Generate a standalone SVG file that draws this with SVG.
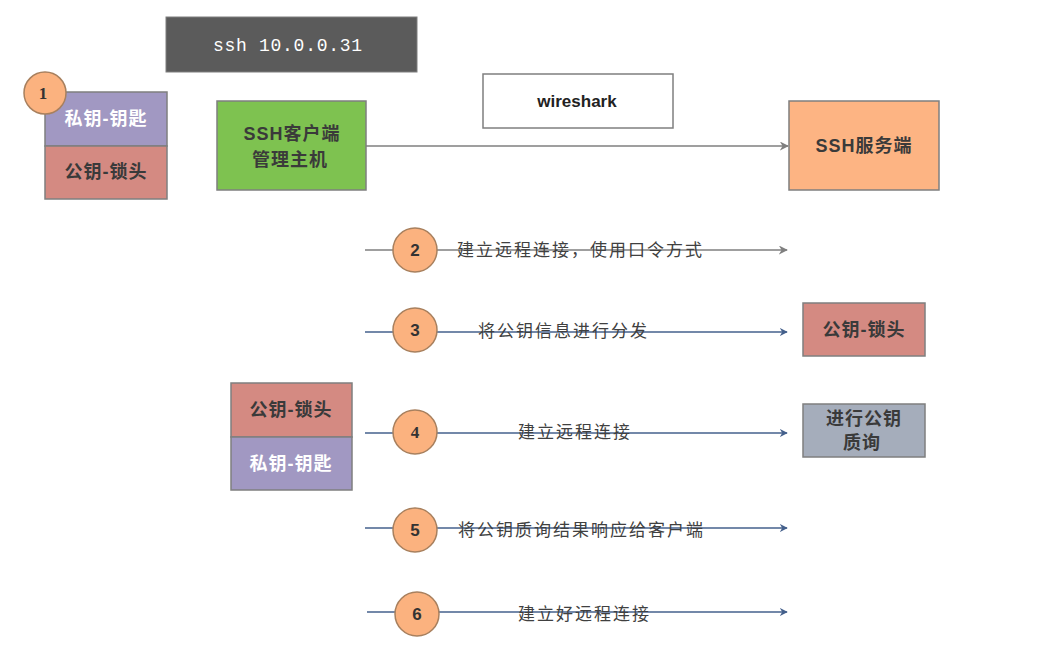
<svg xmlns="http://www.w3.org/2000/svg" width="1064" height="657" viewBox="0 0 1064 657">
<style>
.t{font-family:"Liberation Sans","Noto Sans CJK SC",sans-serif;}
.box{stroke:#7f7f7f;stroke-width:1.5;}
.bl{font-family:"Liberation Sans","Noto Sans CJK SC",sans-serif;font-size:18px;font-weight:bold;fill:#3a3a3a;text-anchor:middle;letter-spacing:1px;}
.lbl{font-family:"Liberation Sans","Noto Sans CJK SC",sans-serif;font-size:17px;fill:#404040;letter-spacing:2px;}
.num{fill:#fbb27f;stroke:#a8805e;stroke-width:1.5;}
.nt{font-family:"Liberation Sans","Noto Sans CJK SC",sans-serif;font-size:17px;font-weight:bold;fill:#333;text-anchor:middle;}
.ln{stroke:#44608c;stroke-width:1.5;fill:none;}
.lg{stroke:#7f7f7f;stroke-width:1.5;fill:none;}
</style>
<defs>
<marker id="ab" viewBox="0 0 10 10" refX="9" refY="5" markerWidth="8" markerHeight="8" orient="auto" markerUnits="userSpaceOnUse"><path d="M0,0 L10,5 L0,10 L3,5 z" fill="#44608c"/></marker>
<marker id="ag" viewBox="0 0 10 10" refX="9" refY="5" markerWidth="9" markerHeight="9" orient="auto" markerUnits="userSpaceOnUse"><path d="M0,0 L10,5 L0,10 L3,5 z" fill="#7f7f7f"/></marker>
</defs>
<rect width="1064" height="657" fill="#ffffff"/>

<g id="connectors">
<line class="lg" x1="366" y1="146" x2="788" y2="146" marker-end="url(#ag)"/>
<line class="lg" x1="365" y1="250" x2="787" y2="250" marker-end="url(#ag)"/>
<line class="ln" x1="365" y1="332" x2="787" y2="332" marker-end="url(#ab)"/>
<line class="ln" x1="365" y1="433" x2="787" y2="433" marker-end="url(#ab)"/>
<line class="ln" x1="365" y1="528" x2="787" y2="528" marker-end="url(#ab)"/>
<line class="ln" x1="367" y1="612" x2="787" y2="612" marker-end="url(#ab)"/>
</g>

<g id="ssh-cmd">
<rect x="166" y="17" width="251" height="55" fill="#5b5b5b" stroke="#7f7f7f"/>
<text x="213" y="51" font-family="Liberation Mono, monospace" font-size="18" fill="#ffffff" textLength="149" lengthAdjust="spacing">ssh 10.0.0.31</text>
</g>

<g id="key-pair-1">
<rect class="box" x="45" y="92" width="122" height="54" fill="#a198c2"/>
<text class="bl" x="106" y="125" style="fill:#ffffff">私钥-钥匙</text>
<rect class="box" x="45" y="146" width="122" height="53" fill="#d48a82"/>
<text class="bl" x="106" y="178">公钥-锁头</text>
<circle class="num" cx="45" cy="93" r="21"/>
<text class="nt" x="43" y="99" style="font-family:'Liberation Serif',serif">1</text>
</g>

<g id="client">
<rect class="box" x="217" y="101" width="149" height="89" fill="#7ec250"/>
<text class="bl" x="292" y="140">SSH客户端</text>
<text class="bl" x="290" y="166">管理主机</text>
</g>

<g id="wireshark">
<rect class="box" x="483" y="74" width="190" height="54" fill="#ffffff"/>
<text x="577" y="107" class="t" font-size="17" font-weight="bold" fill="#222" text-anchor="middle">wireshark</text>
</g>

<g id="server">
<rect class="box" x="789" y="101" width="150" height="89" fill="#fdb483"/>
<text class="bl" x="864" y="152">SSH服务端</text>
</g>

<g id="step2">
<circle class="num" cx="415" cy="250" r="22"/>
<text class="nt" x="415" y="256">2</text>
<text class="lbl" x="457" y="256">建立远程连接，使用口令方式</text>
</g>

<g id="step3">
<circle class="num" cx="415" cy="330" r="22"/>
<text class="nt" x="415" y="336">3</text>
<text class="lbl" x="478" y="337">将公钥信息进行分发</text>
</g>

<g id="pubkey-server">
<rect class="box" x="803" y="303" width="122" height="53" fill="#d48a82"/>
<text class="bl" x="864" y="336">公钥-锁头</text>
</g>

<g id="key-pair-2">
<rect class="box" x="231" y="383" width="121" height="54" fill="#d48a82"/>
<text class="bl" x="291" y="416">公钥-锁头</text>
<rect class="box" x="231" y="437" width="121" height="53" fill="#a198c2"/>
<text class="bl" x="291" y="470" style="fill:#ffffff">私钥-钥匙</text>
</g>

<g id="step4">
<circle class="num" cx="415" cy="432" r="22"/>
<text class="nt" x="415" y="438" style="font-family:'Liberation Serif',serif">4</text>
<text class="lbl" x="518" y="438">建立远程连接</text>
</g>

<g id="challenge">
<rect class="box" x="803" y="404" width="122" height="53" fill="#a5adbb"/>
<text class="bl" x="864" y="425">进行公钥</text>
<text class="bl" x="862" y="449">质询</text>
</g>

<g id="step5">
<circle class="num" cx="415" cy="530" r="22"/>
<text class="nt" x="415" y="536">5</text>
<text class="lbl" x="458" y="536">将公钥质询结果响应给客户端</text>
</g>

<g id="step6">
<circle class="num" cx="417" cy="614" r="22"/>
<text class="nt" x="417" y="620">6</text>
<text class="lbl" x="518" y="620">建立好远程连接</text>
</g>
</svg>
